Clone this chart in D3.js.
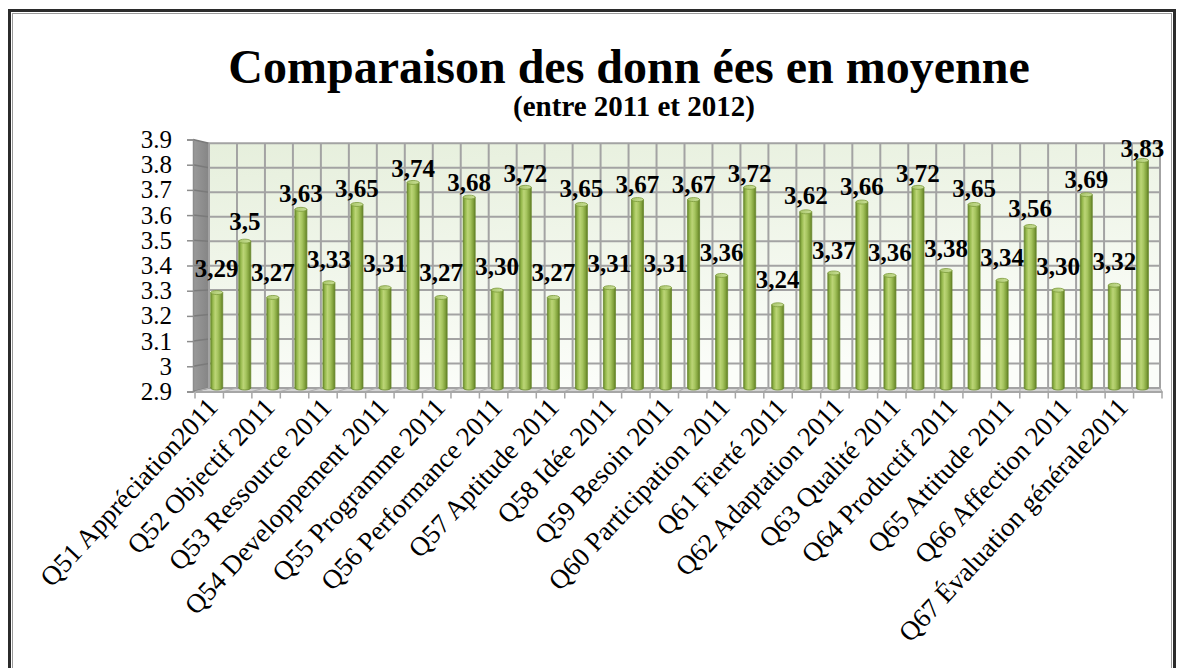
<!DOCTYPE html>
<html>
<head>
<meta charset="utf-8">
<script src="https://cdn.jsdelivr.net/npm/d3@7/dist/d3.min.js"></script>
<style>
  html, body { margin: 0; padding: 0; background: #ffffff; }
  svg { display: block; }
</style>
</head>
<body>
<svg id="chart" width="1183" height="668"></svg>
<script>
// ---------- DATA ----------
const titleText = "Comparaison des donn ées en moyenne";
const subtitleText = "(entre 2011 et 2012)";

const categories = [
  "Q51 Appréciation2011", "Q51 Appréciation2012",
  "Q52 Objectif 2011", "Q52 Objectif 2012",
  "Q53 Ressource 2011", "Q53 Ressource 2012",
  "Q54 Developpement 2011", "Q54 Developpement 2012",
  "Q55 Programme 2011", "Q55 Programme 2012",
  "Q56 Performance 2011", "Q56 Performance 2012",
  "Q57 Aptitude 2011", "Q57 Aptitude 2012",
  "Q58 Idée 2011", "Q58 Idée 2012",
  "Q59 Besoin 2011", "Q59 Besoin 2012",
  "Q60 Participation 2011", "Q60 Participation 2012",
  "Q61 Fierté 2011", "Q61 Fierté 2012",
  "Q62 Adaptation 2011", "Q62 Adaptation 2012",
  "Q63 Qualité 2011", "Q63 Qualité 2012",
  "Q64 Productif 2011", "Q64 Productif 2012",
  "Q65 Attitude 2011", "Q65 Attitude 2012",
  "Q66 Affection 2011", "Q66 Affection 2012",
  "Q67 Évaluation générale2011", "Q67 Évaluation générale2012"
];

const values = [
  3.29, 3.50, 3.27, 3.63, 3.33, 3.65, 3.31, 3.74, 3.27, 3.68,
  3.30, 3.72, 3.27, 3.65, 3.31, 3.67, 3.31, 3.67, 3.36, 3.72,
  3.24, 3.62, 3.37, 3.66, 3.36, 3.72, 3.38, 3.65, 3.34, 3.56,
  3.30, 3.69, 3.32, 3.83
];

const valueLabels = [
  "3,29", "3,5", "3,27", "3,63", "3,33", "3,65", "3,31", "3,74", "3,27", "3,68",
  "3,30", "3,72", "3,27", "3,65", "3,31", "3,67", "3,31", "3,67", "3,36", "3,72",
  "3,24", "3,62", "3,37", "3,66", "3,36", "3,72", "3,38", "3,65", "3,34", "3,56",
  "3,30", "3,69", "3,32", "3,83"
];

const yTicks = [2.9, 3, 3.1, 3.2, 3.3, 3.4, 3.5, 3.6, 3.7, 3.8, 3.9];
const yTickLabels = ["2.9", "3", "3.1", "3.2", "3.3", "3.4", "3.5", "3.6", "3.7", "3.8", "3.9"];

// ---------- LAYOUT ----------
const svg = d3.select("#chart");
const serif = "'Liberation Serif', 'Times New Roman', serif";

const domainY = [2.9, 3.9];
const xBack  = d3.scaleBand().domain(categories).range([209, 1160]);
const xFront = d3.scaleBand().domain(categories).range([195, 1162]);
const xMid   = d3.scaleBand().domain(categories).range([202.7, 1156.4]);
const yBack  = d3.scaleLinear().domain(domainY).range([388, 143.3]);
const yFront = d3.scaleLinear().domain(domainY).range([391.5, 139.5]);
const yLabel = d3.scaleLinear().domain(domainY).range([363, 142]);
const barW = 12;

// ---------- DEFS ----------
const defs = svg.append("defs");
const wallGrad = defs.append("linearGradient").attr("id", "wall")
  .attr("x1", "0").attr("y1", "0").attr("x2", "0.3").attr("y2", "1");
wallGrad.append("stop").attr("offset", "0%").attr("stop-color", "#e6efdc");
wallGrad.append("stop").attr("offset", "100%").attr("stop-color", "#fbfdf9");

const sideGrad = defs.append("linearGradient").attr("id", "side")
  .attr("x1", "0").attr("y1", "0").attr("x2", "1").attr("y2", "0");
sideGrad.append("stop").attr("offset", "0%").attr("stop-color", "#9a9a9a");
sideGrad.append("stop").attr("offset", "100%").attr("stop-color", "#858585");

const barGrad = defs.append("linearGradient").attr("id", "bar")
  .attr("x1", "0").attr("y1", "0").attr("x2", "1").attr("y2", "0");
[["0%", "#6a8a2c"], ["18%", "#97ba4e"], ["38%", "#bcd577"], ["60%", "#a6c55f"], ["85%", "#7f9f3a"], ["100%", "#5e7c24"]]
  .forEach(([o, c]) => barGrad.append("stop").attr("offset", o).attr("stop-color", c));

const capGrad = defs.append("linearGradient").attr("id", "cap")
  .attr("x1", "0").attr("y1", "0").attr("x2", "1").attr("y2", "0");
capGrad.append("stop").attr("offset", "0%").attr("stop-color", "#a9c66a");
capGrad.append("stop").attr("offset", "100%").attr("stop-color", "#c9df97");

// ---------- OUTER BORDER ----------
svg.append("rect").attr("x", 9.5).attr("y", 10.5).attr("width", 1165).attr("height", 700)
  .attr("fill", "#ffffff").attr("stroke", "#2b2b2b").attr("stroke-width", 3);
svg.append("rect").attr("x", 12.5).attr("y", 13.5).attr("width", 1159).attr("height", 700)
  .attr("fill", "none").attr("stroke", "#9a9a9a").attr("stroke-width", 1);

// ---------- TITLES ----------
svg.append("text").attr("x", 629).attr("y", 83)
  .attr("text-anchor", "middle").attr("font-family", serif)
  .attr("font-weight", "bold").attr("font-size", 48).attr("fill", "#000")
  .text(titleText);
svg.append("text").attr("x", 634).attr("y", 116)
  .attr("text-anchor", "middle").attr("font-family", serif)
  .attr("font-weight", "bold").attr("font-size", 29).attr("fill", "#000")
  .text(subtitleText);

// ---------- WALLS ----------
const x0b = xBack.range()[0], x1b = xBack.range()[1];
const x0f = xFront.range()[0], x1f = xFront.range()[1];
const yTopB = yBack(domainY[1]), yBotB = yBack(domainY[0]);
const yTopF = yFront(domainY[1]), yBotF = yFront(domainY[0]);

svg.append("rect").attr("x", x0b).attr("y", yTopB)
  .attr("width", x1b - x0b).attr("height", yBotB - yTopB)
  .attr("fill", "url(#wall)");

svg.append("path")
  .attr("d", `M${x0f - 2},${yTopF} L${x0b},${yTopB} L${x0b},${yBotB} L${x0f - 2},${yBotF} Z`)
  .attr("fill", "url(#side)");

svg.append("path")
  .attr("d", `M${x0f - 2},${yBotF} L${x0b},${yBotB} L${x1b},${yBotB} L${x1f},${yBotF} Z`)
  .attr("fill", "#d4d4d4");

const gridColor = "#a3a3a3";
svg.append("g").selectAll("line.hg").data(yTicks).join("line")
  .attr("x1", x0b).attr("x2", x1b)
  .attr("y1", d => yBack(d)).attr("y2", d => yBack(d))
  .attr("stroke", gridColor).attr("stroke-width", 2);
svg.append("g").selectAll("line.sg").data(yTicks).join("line")
  .attr("x1", x0f - 2).attr("x2", x0b)
  .attr("y1", d => yFront(d)).attr("y2", d => yBack(d))
  .attr("stroke", "#7a7a7a").attr("stroke-width", 1.5);

const bounds = categories.map(c => c).concat([null]);
svg.append("g").selectAll("line.vg").data(bounds).join("line")
  .attr("x1", d => d === null ? x1b : xBack(d))
  .attr("x2", d => d === null ? x1b : xBack(d))
  .attr("y1", yTopB).attr("y2", yBotB)
  .attr("stroke", gridColor).attr("stroke-width", 2);

svg.append("g").selectAll("line.fg").data(bounds).join("line")
  .attr("x1", d => d === null ? x1b : xBack(d))
  .attr("y1", yBotB)
  .attr("x2", d => d === null ? x1f : xFront(d))
  .attr("y2", yBotF)
  .attr("stroke", "#b0b0b0").attr("stroke-width", 1.2);

// ---------- AXES ----------
const yAxis = d3.axisLeft(yFront).tickValues(yTicks).tickSize(6)
  .tickFormat((d, i) => yTickLabels[i]);
const gy = svg.append("g").attr("transform", `translate(${x0f - 2},0)`).call(yAxis);
gy.select(".domain").attr("stroke", "#8c8c8c").attr("stroke-width", 1.5);
gy.selectAll(".tick line").attr("stroke", "#8c8c8c").attr("stroke-width", 1.5);
gy.selectAll(".tick text").attr("x", -21).attr("font-family", serif)
  .attr("font-size", 25).attr("fill", "#000");

const xAxis = d3.axisBottom(xFront).tickSize(0).tickFormat("");
const gx = svg.append("g").attr("transform", `translate(0,${yBotF})`).call(xAxis);
gx.select(".domain").attr("stroke", "#a6a6a6").attr("stroke-width", 2);
gx.selectAll(".tick").remove();
svg.append("g").selectAll("line.xt").data(bounds).join("line")
  .attr("x1", d => d === null ? x1f : xFront(d))
  .attr("x2", d => d === null ? x1f : xFront(d))
  .attr("y1", yBotF).attr("y2", yBotF + 7)
  .attr("stroke", "#a6a6a6").attr("stroke-width", 1.5);

svg.append("g").selectAll("text.xl")
  .data(categories.filter((d, i) => i % 2 === 0))
  .join("text")
  .attr("transform", d => `translate(${xFront(d) + xFront.bandwidth() / 2 + 10},${yBotF + 17}) rotate(-47)`)
  .attr("text-anchor", "end")
  .attr("font-family", serif).attr("font-size", 27).attr("fill", "#000")
  .text(d => d);

// ---------- BARS (cylinders) ----------
const gb = svg.append("g");
categories.forEach((c, i) => {
  const cx = xMid(c) + xMid.bandwidth() / 2;
  const top = yBack(values[i]);
  const bot = yBack(domainY[0]);
  const rx = barW / 2, ry = 2;
  gb.append("path")
    .attr("d", `M${cx - rx},${top} L${cx - rx},${bot} A${rx},${ry} 0 0 0 ${cx + rx},${bot} L${cx + rx},${top} Z`)
    .attr("fill", "url(#bar)")
    .attr("stroke", "#6b8a2e").attr("stroke-width", 0.8);
  gb.append("ellipse")
    .attr("cx", cx).attr("cy", top).attr("rx", rx).attr("ry", ry)
    .attr("fill", "url(#cap)").attr("stroke", "#7d9c3c").attr("stroke-width", 0.8);
});

// ---------- VALUE LABELS ----------
svg.append("g").selectAll("text.vl").data(categories).join("text")
  .attr("x", d => xMid(d) + xMid.bandwidth() / 2)
  .attr("y", (d, i) => yLabel(values[i]))
  .attr("text-anchor", "middle")
  .attr("font-family", serif).attr("font-weight", "bold")
  .attr("font-size", 25).attr("fill", "#000")
  .text((d, i) => valueLabels[i]);
</script>
</body>
</html>
